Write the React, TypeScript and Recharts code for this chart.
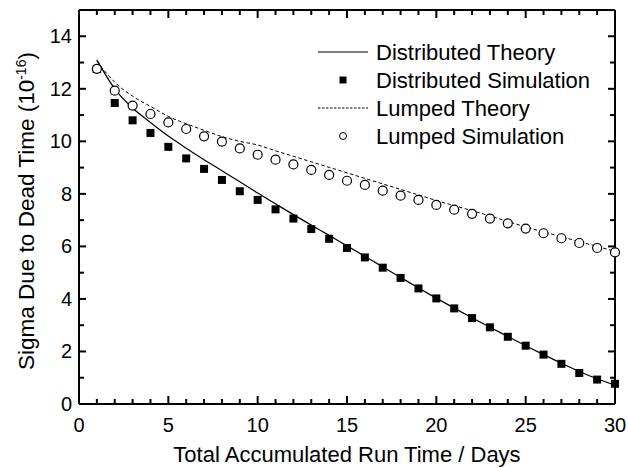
import { ComposedChart, Line, ReferenceLine, XAxis, YAxis } from 'recharts';

const FONT = '"Liberation Sans", Arial, Helvetica, sans-serif';
const W = 628;
const H = 468;
const MARGIN = { top: 10, right: 13, bottom: 0, left: 0 };
const Y_AXIS_W = 79;
const X_AXIS_H = 64;
const PLOT_TOP = MARGIN.top;
const PLOT_RIGHT = W - MARGIN.right;
const PLOT_BOTTOM = H - MARGIN.bottom - X_AXIS_H;

// run time in days
const days = [
  1, 2, 3, 4, 5, 6, 7, 8, 9, 10, 11, 12, 13, 14, 15, 16, 17, 18, 19, 20, 21,
  22, 23, 24, 25, 26, 27, 28, 29, 30,
];

// sigma values, units of 1e-16
const distTheory = [
  13.1, 12.0, 11.27, 10.72, 10.2, 9.74, 9.3, 8.88, 8.46, 8.03, 7.62, 7.21,
  6.81, 6.42, 6.02, 5.62, 5.22, 4.82, 4.42, 4.03, 3.65, 3.28, 2.92, 2.57, 2.22,
  1.88, 1.55, 1.24, 0.96, 0.72,
];
const distSim = [
  12.75, 11.46, 10.8, 10.32, 9.79, 9.35, 8.95, 8.53, 8.1, 7.77, 7.41, 7.06,
  6.66, 6.29, 5.94, 5.58, 5.19, 4.8, 4.4, 4.02, 3.64, 3.27, 2.92, 2.56, 2.22,
  1.88, 1.53, 1.18, 0.93, 0.77,
];
const lumpTheory = [
  13.05, 12.25, 11.72, 11.33, 10.95, 10.67, 10.42, 10.18, 10.0, 9.86, 9.64,
  9.43, 9.22, 9.01, 8.8, 8.59, 8.38, 8.17, 7.96, 7.75, 7.55, 7.36, 7.16, 6.95,
  6.74, 6.55, 6.37, 6.18, 6.0, 5.81,
];
const lumpSim = [
  12.76, 11.93, 11.36, 11.04, 10.72, 10.47, 10.19, 9.99, 9.73, 9.49, 9.3, 9.12,
  8.91, 8.72, 8.5, 8.34, 8.12, 7.93, 7.77, 7.58, 7.4, 7.24, 7.06, 6.88, 6.68,
  6.5, 6.31, 6.13, 5.94, 5.77,
];

const xTicks = Array.from({ length: 31 }, (_, i) => i);
const yTicks = Array.from({ length: 16 }, (_, i) => i);

const legendItems = [
  { label: 'Distributed Theory', kind: 'solid' },
  { label: 'Distributed Simulation', kind: 'square' },
  { label: 'Lumped Theory', kind: 'dashed' },
  { label: 'Lumped Simulation', kind: 'circle' },
];

const rows = days.map((d, i) => ({
  x: d,
  dt: distTheory[i],
  ds: distSim[i],
  lt: lumpTheory[i],
  ls: lumpSim[i],
}));

// bottom axis tick + matching tick on the top frame edge
function BottomTick({ x, y, payload }: any) {
  const len = payload.value % 5 === 0 ? 8 : 5;
  return (
    <g>
      <line x1={x} x2={x} y1={y} y2={y - len} stroke="#000" strokeWidth={2} />
      <line x1={x} x2={x} y1={PLOT_TOP} y2={PLOT_TOP + len} stroke="#000" strokeWidth={2} />
      {len === 8 && (
        <text x={x} y={y + 28} textAnchor="middle" fontSize={20} fontFamily={FONT} fill="#000">
          {payload.value}
        </text>
      )}
    </g>
  );
}

// left axis tick + matching tick on the right frame edge
function LeftTick({ x, y, payload }: any) {
  const len = payload.value % 2 === 0 ? 7 : 5;
  return (
    <g>
      <line x1={x} x2={x + len} y1={y} y2={y} stroke="#000" strokeWidth={2} />
      <line x1={PLOT_RIGHT} x2={PLOT_RIGHT - len} y1={y} y2={y} stroke="#000" strokeWidth={2} />
      {len === 7 && payload.value < 15 && (
        <text x={x - 7} y={y + 7} textAnchor="end" fontSize={20} fontFamily={FONT} fill="#000">
          {payload.value}
        </text>
      )}
    </g>
  );
}

function SquareDot({ cx, cy }: any) {
  return <rect x={cx - 4} y={cy - 4} width={8} height={8} fill="#000" />;
}

function CircleDot({ cx, cy }: any) {
  return <circle cx={cx} cy={cy} r={4.5} fill="#fff" stroke="#000" strokeWidth={1.2} />;
}

// axis titles and legend, drawn over the chart
function Overlay() {
  const midX = (Y_AXIS_W + PLOT_RIGHT) / 2;
  return (
    <svg width={W} height={H} style={{ position: 'absolute', top: 0, left: 0, pointerEvents: 'none' }}>
      <text x={midX} y={PLOT_BOTTOM + 58} textAnchor="middle" fontSize={22} fontFamily={FONT} fill="#000">
        Total Accumulated Run Time / Days
      </text>
      <text
        x={33.5}
        y={211}
        transform="rotate(-90, 33.5, 211)"
        textAnchor="middle"
        fontSize={22.5}
        fontFamily={FONT}
        fill="#000"
      >
        Sigma Due to Dead Time (10
        <tspan dy={-8} fontSize={14}>-16</tspan>
        <tspan dy={8}>)</tspan>
      </text>
      <g transform="translate(310, 38)">
        {legendItems.map((it, i) => {
          const cy = 14 + i * 28;
          return (
            <g key={it.label}>
              {it.kind === 'solid' && <line x1={8} x2={58} y1={cy} y2={cy} stroke="#000" strokeWidth={1.2} />}
              {it.kind === 'dashed' && (
                <line x1={8} x2={58} y1={cy} y2={cy} stroke="#000" strokeWidth={1} strokeDasharray="2.5 1.5" />
              )}
              {it.kind === 'square' && <rect x={29.5} y={cy - 3.5} width={7} height={7} fill="#000" />}
              {it.kind === 'circle' && <circle cx={33} cy={cy} r={3.5} fill="#fff" stroke="#000" strokeWidth={1} />}
              <text x={66} y={cy + 7.5} fontSize={22} fontFamily={FONT} fill="#000">
                {it.label}
              </text>
            </g>
          );
        })}
      </g>
    </svg>
  );
}

export default function App() {
  return (
    <div style={{ position: 'absolute', left: 0, top: 0, width: W, height: H, background: '#fff' }}>
      <ComposedChart width={W} height={H} data={rows} margin={MARGIN}>
        <XAxis
          dataKey="x"
          type="number"
          domain={[0, 30]}
          ticks={xTicks}
          interval={0}
          height={X_AXIS_H}
          tickSize={0}
          tickMargin={0}
          tickLine={false}
          axisLine={{ stroke: '#000', strokeWidth: 2 }}
          tick={(p: any) => <BottomTick {...p} />}
        />
        <YAxis
          type="number"
          domain={[0, 15]}
          ticks={yTicks}
          interval={0}
          width={Y_AXIS_W}
          tickSize={0}
          tickMargin={0}
          tickLine={false}
          axisLine={{ stroke: '#000', strokeWidth: 2 }}
          tick={(p: any) => <LeftTick {...p} />}
        />
        {/* top and right frame edges */}
        <ReferenceLine y={15} stroke="#000" strokeWidth={2} />
        <ReferenceLine x={30} stroke="#000" strokeWidth={2} />
        <Line
          type="monotone"
          dataKey="dt"
          stroke="#000"
          strokeWidth={1.2}
          dot={false}
          isAnimationActive={false}
        />
        <Line
          type="monotone"
          dataKey="lt"
          stroke="#000"
          strokeWidth={1}
          strokeDasharray="3.5 2.5"
          dot={false}
          isAnimationActive={false}
        />
        <Line
          dataKey="ds"
          stroke="none"
          dot={(p: any) => <SquareDot key={`s${p.index}`} {...p} />}
          activeDot={false}
          isAnimationActive={false}
        />
        <Line
          dataKey="ls"
          stroke="none"
          dot={(p: any) => <CircleDot key={`c${p.index}`} {...p} />}
          activeDot={false}
          isAnimationActive={false}
        />
      </ComposedChart>
      <Overlay />
    </div>
  );
}
